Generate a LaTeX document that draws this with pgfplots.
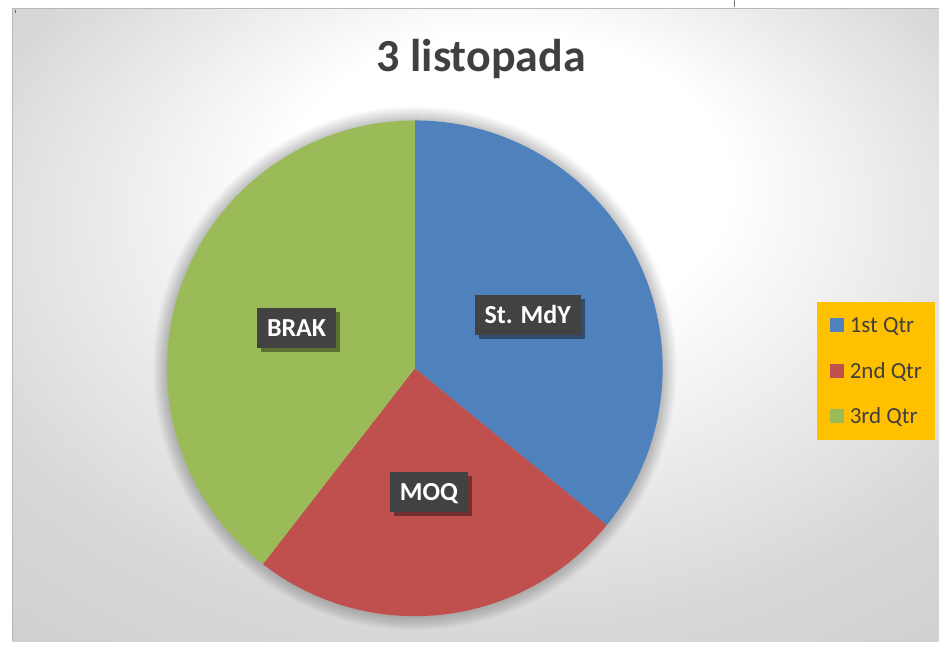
\documentclass[border=0pt]{standalone}
\usepackage{pgfplots}
\pgfplotsset{compat=1.18}
\usepackage{pgfplotstable}
\usepackage{fontspec}
\setmainfont{Carlito}
\usetikzlibrary{shadows}
\definecolor{qblue}{HTML}{4F81BD}
\definecolor{qred}{HTML}{C0504D}
\definecolor{qgreen}{HTML}{9BBB59}
\definecolor{lblbg}{HTML}{424242}
\definecolor{legbg}{HTML}{FFC000}
\definecolor{txt}{HTML}{404040}
\definecolor{bgA}{HTML}{FFFFFF}
\definecolor{bgB}{HTML}{D8D8D8}
\definecolor{bgC}{HTML}{C4C4C4}
\pgfdeclareradialshading{chartbg}{\pgfpoint{2.2bp}{14.7bp}}{color(0bp)=(bgA); color(12bp)=(bgA); color(30bp)=(bgB); color(50bp)=(bgC)}
\tikzset{lbl/.style={fill=lblbg, text=white, font=\fontsize{26bp}{30bp}\selectfont\bfseries,
    inner xsep=10bp, inner ysep=0pt, text height=17bp, text depth=0pt, minimum height=40bp,
    drop shadow={shadow xshift=4bp, shadow yshift=-4bp, opacity=0.4, fill=black}}}

\pgfplotstableread[col sep=comma]{
legend,label,value
1st Qtr,St. MdY,35.9
2nd Qtr,MOQ,24.6
3rd Qtr,BRAK,39.5
}\piedata

\begin{document}
\begin{tikzpicture}
\pgfplotstablegetelem{0}{value}\of\piedata \let\vA\pgfplotsretval
\pgfplotstablegetelem{1}{value}\of\piedata \let\vB\pgfplotsretval
\pgfplotstablegetelem{2}{value}\of\piedata \let\vC\pgfplotsretval
\pgfplotstablegetelem{0}{label}\of\piedata \let\lA\pgfplotsretval
\pgfplotstablegetelem{1}{label}\of\piedata \let\lB\pgfplotsretval
\pgfplotstablegetelem{2}{label}\of\piedata \let\lC\pgfplotsretval
\pgfmathsetmacro\tot{\vA+\vB+\vC}
\pgfmathsetmacro\aA{90}
\pgfmathsetmacro\aB{\aA-360*\vA/\tot}
\pgfmathsetmacro\aC{\aB-360*\vB/\tot}
\pgfmathsetmacro\aD{\aC-360*\vC/\tot}
\pgfmathsetmacro\mA{(\aA+\aB)/2}
\pgfmathsetmacro\mB{(\aB+\aC)/2}
\pgfmathsetmacro\mC{(\aC+\aD)/2}
\begin{axis}[
  scale only axis, width=939bp, height=641bp,
  xmin=0, xmax=939, ymin=0, ymax=641,
  hide axis, clip=false,
  legend cell align=left,
  legend image code/.code={\fill[#1, draw=none] (0bp,-7bp) rectangle (14bp,7bp);},
  legend style={at={(axis description cs:0.87010,0.53042)}, anchor=north west,
    fill=legbg, draw=none, inner xsep=13bp, inner ysep=16bp,
    font=\fontsize{23bp}{27bp}\selectfont, text=txt, row sep=31bp,
    nodes={inner sep=0pt, text height=14.8bp, text depth=0pt},
    /tikz/every odd column/.append style={column sep=6bp}},
]
% background
\fill[white] (axis cs:0,0) rectangle (axis cs:939,641);
\shade[shading=chartbg] (axis cs:13,0) rectangle (axis cs:939,633);
\draw[line width=1bp, color=black!28] (axis cs:13,0) -- (axis cs:13,633) -- (axis cs:939,633);
\draw[line width=1bp, color=black!55] (axis cs:735,641) -- (axis cs:735,634);
\draw[line width=1bp, color=black!60] (axis cs:15.5,631) -- (axis cs:15.5,628);
% pie shadow
\pgfplotsinvokeforeach{1,...,14}{
  \fill[black, opacity=0.014] (axis cs:415,273) circle[radius={(248+#1)*1bp}];
}
% wedges
\fill[qblue] (axis cs:415,273) -- ++(\aA:248bp) arc[start angle=\aA, end angle=\aB, radius=248bp] -- cycle;
\fill[qred] (axis cs:415,273) -- ++(\aB:248bp) arc[start angle=\aB, end angle=\aC, radius=248bp] -- cycle;
\fill[qgreen] (axis cs:415,273) -- ++(\aC:248bp) arc[start angle=\aC, end angle=\aD, radius=248bp] -- cycle;
% data labels
\path (axis cs:415,273) ++(\mA:125bp) node[lbl] {\lA};
\path (axis cs:415,273) ++(\mB:125bp) node[lbl] {\lB};
\path (axis cs:415,273) ++(\mC:125bp) node[lbl] {\lC};
% title
\node[anchor=base, font=\fontsize{46bp}{50bp}\selectfont\bfseries, text=txt] at (axis cs:481.5,570) {3 listopada};
% legend
\addlegendimage{draw=none, fill=qblue}
\addlegendentry{1st Qtr}
\addlegendimage{draw=none, fill=qred}
\addlegendentry{2nd Qtr}
\addlegendimage{draw=none, fill=qgreen}
\addlegendentry{3rd Qtr}
\end{axis}
\end{tikzpicture}
\end{document}
